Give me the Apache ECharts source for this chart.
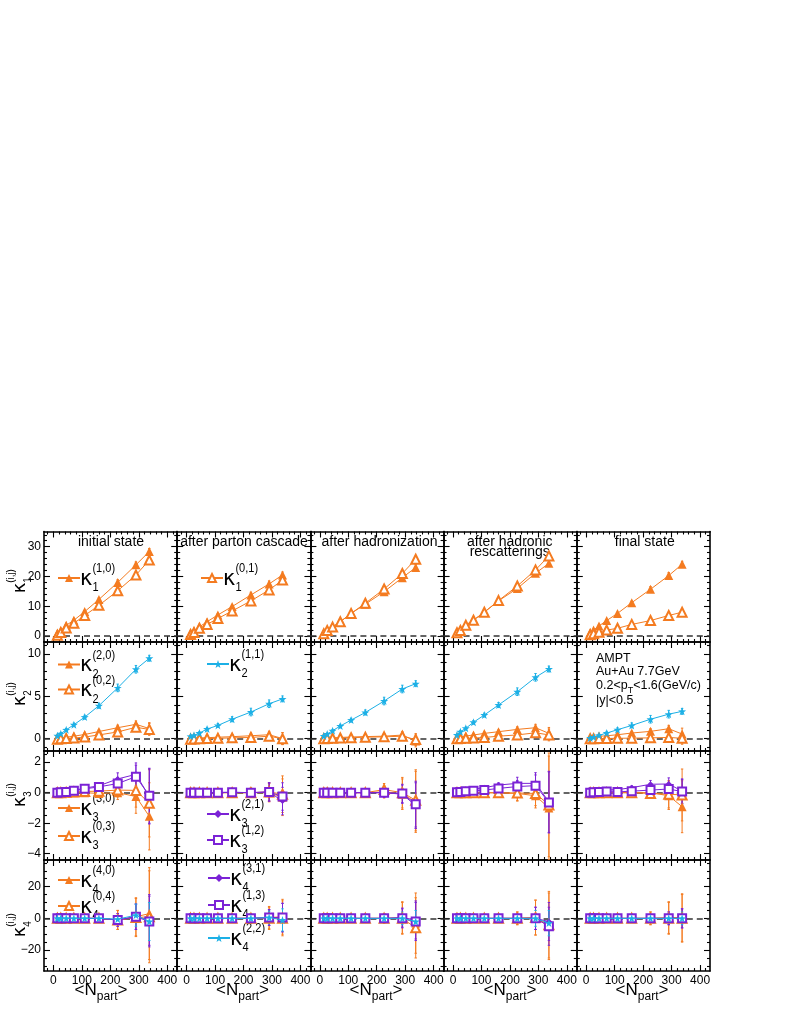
<!DOCTYPE html>
<html><head><meta charset="utf-8">
<script src="https://cdn.jsdelivr.net/npm/echarts@6/dist/echarts.min.js"></script>
<style>html,body{margin:0;padding:0;background:#fff}#c{width:790px;height:1022px}</style>
</head><body><div id="c"></div><script>
// ---------------- data ----------------
const npart = [14, 26, 45, 72, 110, 160, 226, 290, 337];
const stages = ['initial state', 'after parton cascade', 'after hadronization', 'after hadronic\nrescatterings', 'final state'];
const xTicks = [0, 100, 200, 300, 400];
const yTicks = [[0, 10, 20, 30], [0, 5, 10], [-4, -2, 0, 2], [-20, 0, 20]];

// kappa_1 (one array per stage)
const k1_10 = [
  [0.9, 1.7, 3.6, 5.3, 8.2, 12.3, 18.0, 23.9, 28.4],
  [0.9, 1.7, 3.1, 4.8, 7.1, 9.9, 13.8, 17.5, 20.5],
  [0.9, 2.0, 3.1, 4.8, 7.6, 10.7, 14.9, 19.6, 23.0],
  [1.2, 2.0, 3.7, 5.4, 8.0, 11.8, 16.0, 21.1, 24.4],
  [1.2, 2.0, 3.4, 5.2, 7.6, 11.2, 15.7, 20.3, 24.1]];
const k1_01 = [
  [0.3, 1.2, 2.7, 4.3, 6.9, 10.3, 15.2, 20.5, 25.5],
  [0.5, 1.2, 2.6, 3.9, 5.9, 8.4, 11.8, 15.5, 18.8],
  [0.8, 1.9, 3.0, 4.8, 7.6, 11.0, 15.8, 21.0, 25.8],
  [1.1, 1.9, 3.6, 5.3, 8.0, 11.9, 16.8, 22.2, 26.9],
  [0.4, 0.8, 1.3, 2.0, 2.6, 3.9, 5.2, 6.9, 8.0]];
const k1_err = [0.15, 0.2, 0.3, 0.35, 0.4, 0.5, 0.9, 1.0, 1.0];

// kappa_2
const k2_20 = [
  [0.05, 0.1, 0.17, 0.3, 0.5, 0.85, 1.3, 1.7, 1.2],
  [0.05, 0.07, 0.1, 0.12, 0.18, 0.24, 0.35, 0.47, 0.02],
  [0.05, 0.08, 0.1, 0.15, 0.2, 0.25, 0.3, 0.43, -0.27],
  [0.13, 0.2, 0.32, 0.44, 0.63, 0.83, 1.1, 1.3, 0.63],
  [0.08, 0.15, 0.28, 0.35, 0.47, 0.67, 0.87, 1.18, 0.55]];
const k2_02 = [
  [-0.05, 0.0, 0.03, 0.08, 0.2, 0.45, 0.8, 1.35, 1.1],
  [-0.05, -0.03, 0.0, 0.02, 0.05, 0.1, 0.15, 0.3, 0.0],
  [0.0, 0.03, 0.05, 0.08, 0.12, 0.18, 0.22, 0.3, -0.1],
  [0.0, 0.02, 0.05, 0.08, 0.15, 0.3, 0.45, 0.7, 0.45],
  [0.0, 0.0, 0.02, 0.03, 0.05, 0.07, 0.1, 0.15, 0.05]];
const k2_11 = [
  [0.35, 0.6, 1.05, 1.65, 2.55, 3.9, 6.0, 8.2, 9.5],
  [0.28, 0.4, 0.67, 1.14, 1.57, 2.3, 3.15, 4.13, 4.7],
  [0.32, 0.55, 0.95, 1.5, 2.2, 3.1, 4.45, 5.87, 6.5],
  [0.44, 0.83, 1.23, 1.94, 2.8, 3.98, 5.55, 7.25, 8.23],
  [0.08, 0.2, 0.4, 0.67, 1.06, 1.57, 2.3, 2.9, 3.23]];
const k2_org_err = [0.05, 0.06, 0.08, 0.1, 0.15, 0.2, 0.3, 0.4, 0.7];
const k2_blu_err = [0.1, 0.12, 0.15, 0.2, 0.22, 0.3, 0.45, 0.45, 0.35];

// kappa_3
const k3_30 = [
  [0, 0, 0, 0, 0, -0.05, 0.0, -0.25, -1.55],
  [0, 0, 0, 0, 0, 0, 0, 0.0, -0.3],
  [0, 0, 0, 0, 0, 0, 0.05, -0.1, -0.6],
  [0, 0, 0, 0, 0, -0.02, -0.05, -0.2, -1.0],
  [0, 0, 0, 0, 0, 0, 0, -0.2, -0.92]];
const k3_03 = [
  [0, 0, 0.02, 0.05, 0.08, 0.1, 0.17, 0.15, -0.7],
  [0, 0, 0, 0, 0, 0, 0, 0.05, -0.1],
  [0, 0, 0, 0, 0, 0, 0.2, 0.0, -0.5],
  [0, 0, 0, 0, 0, 0, -0.02, -0.05, -0.8],
  [0, 0, 0, 0, 0, 0, -0.05, -0.1, -0.15]];
const k3_21 = [
  [0.02, 0.05, 0.08, 0.15, 0.3, 0.45, 0.9, 1.2, -0.25],
  [0, 0, 0, 0, 0.02, 0.03, 0.0, 0.05, -0.55],
  [0, 0, 0, 0, 0, 0, 0.0, -0.1, -0.85],
  [0.1, 0.12, 0.17, 0.24, 0.33, 0.5, 0.61, 0.61, -0.6],
  [0.05, 0.08, 0.12, 0.17, 0.2, 0.33, 0.55, 0.57, 0.1]];
const k3_12 = [
  [0.0, 0.03, 0.05, 0.12, 0.25, 0.38, 0.6, 1.05, -0.2],
  [0, 0, 0, 0, 0, 0.02, 0.0, 0.05, -0.25],
  [0, 0, 0, 0, 0, 0, 0.0, -0.05, -0.75],
  [0.02, 0.05, 0.1, 0.13, 0.17, 0.28, 0.4, 0.46, -0.64],
  [0.0, 0.02, 0.04, 0.07, 0.05, 0.1, 0.17, 0.24, 0.07]];
const k3_org_err = [
  [0.03, 0.04, 0.06, 0.08, 0.12, 0.25, 0.45, 1.1, 2.2],
  [0.03, 0.04, 0.05, 0.07, 0.1, 0.15, 0.3, 0.6, 1.2],
  [0.03, 0.04, 0.05, 0.07, 0.1, 0.15, 0.4, 1.0, 2.0],
  [0.03, 0.04, 0.06, 0.08, 0.12, 0.2, 0.5, 0.8, 3.4],
  [0.03, 0.04, 0.05, 0.07, 0.1, 0.15, 0.3, 0.9, 1.7]];
const k3_pur_err = [
  [0.03, 0.04, 0.05, 0.07, 0.1, 0.2, 0.4, 0.75, 1.8],
  [0.03, 0.03, 0.04, 0.06, 0.08, 0.12, 0.25, 0.6, 0.9],
  [0.03, 0.03, 0.04, 0.06, 0.08, 0.12, 0.3, 0.6, 1.5],
  [0.03, 0.04, 0.05, 0.07, 0.1, 0.15, 0.4, 0.7, 2.0],
  [0.03, 0.03, 0.04, 0.06, 0.08, 0.12, 0.25, 0.4, 0.8]];

// kappa_4
const k4_40 = [
  [0, 0, 0, 0, 0, 0, -1, 1, 3],
  [0, 0, 0, 0, 0, 0, 0, 0.5, 1],
  [0, 0, 0, 0, 0, 0, 0, 0.5, -3],
  [0, 0, 0, 0, 0, 0, 0, 0.5, -5],
  [0, 0, 0, 0, 0, 0, 0, 0.5, 0.5]];
const k4_04 = [
  [0, 0, 0, 0, 0, 0, -1, 0.5, 1],
  [0, 0, 0, 0, 0, 0, 0, 0, 0],
  [0, 0, 0, 0, 0, 0, 0, 0, -6],
  [0, 0, 0, 0, 0, 0, 0, 0.5, -4],
  [0, 0, 0, 0, 0, 0, 0, 0, 0]];
const k4_31 = [
  [0, 0, 0, 0, 0, 0, -1, 1, -1],
  [0, 0, 0, 0, 0, 0, 0, 0.5, 0.5],
  [0, 0, 0, 0, 0, 0, 0, 0.5, -1],
  [0, 0, 0, 0, 0, 0, 0, 0, -2],
  [0, 0, 0, 0, 0, 0, 0, 0, 0]];
const k4_13 = [
  [0, 0, 0, 0, 0, 0, -1, 1, -2],
  [0, 0, 0, 0, 0, 0, 0, 0.5, 0.5],
  [0, 0, 0, 0, 0, 0, 0, 0, -2],
  [0, 0, 0, 0, 0, 0, 0, 0, -5],
  [0, 0, 0, 0, 0, 0, 0, 0, 0]];
const k4_22 = [
  [0, 0, 0, 0, 0, 0, -0.5, 2, -2],
  [0, 0, 0, 0, 0, 0, 0, 0.5, -1],
  [0, 0, 0, 0, 0, 0, 0, 0, -2],
  [0, 0, 0, 0, 0, 0, 0, 0, -3],
  [0, 0, 0, 0, 0, 0, 0, 0, 0]];
const k4_org_err = [
  [0.1, 0.2, 0.3, 0.5, 1, 2, 6, 12, 29],
  [0.1, 0.2, 0.3, 0.4, 0.8, 1.5, 3, 7, 11],
  [0.1, 0.2, 0.3, 0.4, 0.8, 1.5, 3, 10, 19],
  [0.1, 0.2, 0.3, 0.4, 0.8, 1.5, 4, 11, 21],
  [0.1, 0.2, 0.3, 0.4, 0.8, 1.5, 4, 10, 15]];
const k4_pur_err = [
  [0.1, 0.1, 0.2, 0.3, 0.6, 1.2, 4, 8, 16],
  [0.1, 0.1, 0.2, 0.3, 0.6, 1, 2, 5, 9],
  [0.1, 0.1, 0.2, 0.3, 0.6, 1, 2, 6, 12],
  [0.1, 0.1, 0.2, 0.3, 0.6, 1, 2.5, 7, 12],
  [0.1, 0.1, 0.2, 0.3, 0.5, 0.8, 2, 4, 6]];
const k4_blu_err = [
  [0.05, 0.1, 0.15, 0.2, 0.4, 0.8, 2, 7, 12],
  [0.05, 0.1, 0.1, 0.2, 0.3, 0.6, 1.5, 4, 7],
  [0.05, 0.1, 0.1, 0.2, 0.3, 0.6, 1.5, 4, 7],
  [0.05, 0.1, 0.1, 0.2, 0.3, 0.6, 1.5, 5, 8],
  [0.05, 0.1, 0.1, 0.2, 0.3, 0.5, 1.2, 3, 4]];

// ---------------- layout / style ----------------
const ORG = '#f47b20', BLU = '#1cb0e6', PUR = '#7b22d6';
const STAR = 'path://M0,-10L2.35,-3.24L9.51,-3.09L3.8,1.24L5.88,8.09L0,4L-5.88,8.09L-3.8,1.24L-9.51,-3.09L-2.35,-3.24Z';
const COLX = [44, 177.2, 310.4, 443.6, 576.8];
const PW = 133.2;
const ROWY = [531.5, 642, 751, 860, 971];
const XR = [-33, 435];
const YR = [[-2.0, 35.1], [-1.45, 11.42], [-4.41, 2.73], [-33.2, 36.8]];
const YMINOR = [2, 1, 0.5, 5];
const XMINOR = 20;
const SANS = '"Liberation Sans", Arial, sans-serif';
const GREEK = '"DejaVu Sans", sans-serif';

function minorVals(lo, hi, step, majors) {
  const out = [];
  for (let v = Math.ceil(lo / step) * step; v <= hi + 1e-9; v += step) {
    const r = Math.round(v * 1000) / 1000;
    if (!majors.some(m => Math.abs(m - r) < 1e-6)) out.push(r);
  }
  return out;
}
const fmt = v => (v < 0 ? '\u2212' + (-v) : String(v));

const rowDefs = [
  [{ name: 'κ1(1,0)', vals: k1_10, errs: k1_err, sym: 'triangle', size: 9, color: ORG },
   { name: 'κ1(0,1)', vals: k1_01, errs: k1_err, sym: 'emptyTriangle', size: 9, color: ORG }],
  [{ name: 'κ2(2,0)', vals: k2_20, errs: k2_org_err, sym: 'triangle', size: 9, color: ORG },
   { name: 'κ2(0,2)', vals: k2_02, errs: k2_org_err, sym: 'emptyTriangle', size: 9, color: ORG },
   { name: 'κ2(1,1)', vals: k2_11, errs: k2_blu_err, sym: STAR, size: 8, color: BLU }],
  [{ name: 'κ3(3,0)', vals: k3_30, errs: k3_org_err, sym: 'triangle', size: 9, color: ORG },
   { name: 'κ3(0,3)', vals: k3_03, errs: k3_org_err, sym: 'emptyTriangle', size: 9, color: ORG },
   { name: 'κ3(2,1)', vals: k3_21, errs: k3_pur_err, sym: 'diamond', size: 6, color: PUR },
   { name: 'κ3(1,2)', vals: k3_12, errs: k3_pur_err, sym: 'emptyRect', size: 8, color: PUR }],
  [{ name: 'κ4(4,0)', vals: k4_40, errs: k4_org_err, sym: 'triangle', size: 9, color: ORG },
   { name: 'κ4(0,4)', vals: k4_04, errs: k4_org_err, sym: 'emptyTriangle', size: 9, color: ORG },
   { name: 'κ4(3,1)', vals: k4_31, errs: k4_pur_err, sym: 'diamond', size: 6, color: PUR },
   { name: 'κ4(1,3)', vals: k4_13, errs: k4_pur_err, sym: 'emptyRect', size: 8, color: PUR },
   { name: 'κ4(2,2)', vals: k4_22, errs: k4_blu_err, sym: STAR, size: 8, color: BLU }]
];

const grids = [], xAxes = [], yAxes = [], series = [];
const axLine = { show: true, onZero: false, lineStyle: { color: '#000', width: 1.6 } };
const noLine = { show: false, onZero: false };

for (let r = 0; r < 4; r++) {
  const yMaj = yTicks[r];
  const yMin = minorVals(YR[r][0], YR[r][1], YMINOR[r], yMaj);
  const xMin = minorVals(XR[0], XR[1], XMINOR, xTicks);
  for (let c = 0; c < 5; c++) {
    const g = r * 5 + c;
    grids.push({ left: COLX[c], top: ROWY[r], width: PW, height: ROWY[r + 1] - ROWY[r], containLabel: false, outerBoundsMode: 'none', show: false });
    const baseX = { gridIndex: g, type: 'value', min: XR[0], max: XR[1], splitLine: { show: false }, axisPointer: { show: false } };
    const baseY = { gridIndex: g, type: 'value', min: YR[r][0], max: YR[r][1], splitLine: { show: false }, axisPointer: { show: false } };
    const tk = (vals, len) => ({ show: true, inside: true, length: len, customValues: vals, lineStyle: { color: '#000', width: 1.1 } });
    xAxes.push(
      Object.assign({}, baseX, { position: 'bottom', axisLine: axLine, axisTick: tk(xTicks, 6),
        axisLabel: { show: r === 3, customValues: xTicks, margin: 4, fontSize: 12, color: '#000', fontFamily: SANS, formatter: fmt, hideOverlap: false } }),
      Object.assign({}, baseX, { position: 'bottom', axisLine: noLine, axisTick: tk(xMin, 3), axisLabel: { show: false } }),
      Object.assign({}, baseX, { position: 'top', axisLine: axLine, axisTick: tk(xTicks, 6), axisLabel: { show: false } }),
      Object.assign({}, baseX, { position: 'top', axisLine: noLine, axisTick: tk(xMin, 3), axisLabel: { show: false } })
    );
    yAxes.push(
      Object.assign({}, baseY, { position: 'left', axisLine: axLine, axisTick: tk(yMaj, 6),
        axisLabel: { show: c === 0, customValues: yMaj, margin: 3, fontSize: 12, color: '#000', fontFamily: SANS, formatter: fmt, hideOverlap: false } }),
      Object.assign({}, baseY, { position: 'left', axisLine: noLine, axisTick: tk(yMin, 3), axisLabel: { show: false } }),
      Object.assign({}, baseY, { position: 'right', axisLine: axLine, axisTick: tk(yMaj, 6), axisLabel: { show: false } }),
      Object.assign({}, baseY, { position: 'right', axisLine: noLine, axisTick: tk(yMin, 3), axisLabel: { show: false } })
    );
    rowDefs[r].forEach((d, k) => {
      const vals = d.vals[c];
      const errs = Array.isArray(d.errs[0]) ? d.errs[c] : d.errs;
      const col = d.color;
      series.push({
        type: 'custom', name: d.name + ' err', xAxisIndex: g * 4, yAxisIndex: g * 4, silent: true, z: 2, clip: true,
        data: npart.map((n, i) => [n, vals[i], errs[i]]), encode: { x: 0, y: 1 },
        renderItem: (params, api) => {
          const x = api.value(0), y = api.value(1), e = api.value(2);
          const p1 = api.coord([x, y - e]), p2 = api.coord([x, y + e]);
          const st = { stroke: col, lineWidth: 1 };
          return { type: 'group', children: [
            { type: 'line', shape: { x1: p1[0], y1: p1[1], x2: p2[0], y2: p2[1] }, style: st },
            { type: 'line', shape: { x1: p1[0] - 1.2, y1: p1[1], x2: p1[0] + 1.2, y2: p1[1] }, style: st },
            { type: 'line', shape: { x1: p2[0] - 1.2, y1: p2[1], x2: p2[0] + 1.2, y2: p2[1] }, style: st }
          ] };
        }
      });
      const s = {
        type: 'line', name: d.name, xAxisIndex: g * 4, yAxisIndex: g * 4, z: 3 + k,
        data: npart.map((n, i) => [n, vals[i]]),
        symbol: d.sym, symbolSize: d.size, showAllSymbol: true,
        itemStyle: { color: col, borderColor: col, borderWidth: d.sym.indexOf('empty') === 0 ? 1.3 : 0 },
        lineStyle: { color: col, width: 1 }, emphasis: { disabled: true }, silent: true
      };
      if (k === 0) {
        s.markLine = { silent: true, symbol: ['none', 'none'], label: { show: false }, animation: false,
          lineStyle: { color: '#333', type: [6, 4], width: 1.5 }, data: [{ yAxis: 0 }], z: 2 };
      }
      series.push(s);
    });
  }
}

// ---------------- text helpers ----------------
const mctx = document.createElement('canvas').getContext('2d');
function tw(text, size, fam) { mctx.font = size + 'px ' + fam; return mctx.measureText(text).width; }
function txt(x, y, text, size, opts) {
  opts = opts || {};
  const fam = opts.fam || SANS;
  const el = { type: 'text', x, y, silent: true, style: { text, fontSize: size, fontFamily: fam, fill: '#000',
    align: opts.align || 'left', textAlign: opts.align || 'left', verticalAlign: 'middle', textVerticalAlign: 'middle' } };
  if (opts.sx) el.scaleX = opts.sx;
  return el;
}
// kappa with stacked sub/superscript; (x,y) = left / vertical centre of kappa glyph
function kappa(x, y, sub, sup, fs, ss, rot, off) {
  const kw = tw('κ', fs, GREEK);
  off = off || [0.4, -0.52];
  const children = [
    txt(0, 0, 'κ', fs, { fam: GREEK }),
    txt(kw, fs * off[0], sub, ss, { sx: 0.85 }),
    txt(kw, fs * off[1], sup, ss, { sx: 0.85 })
  ];
  return { type: 'group', x, y, rotation: rot || 0, silent: true, children };
}

const graphics = [];
// column titles
const titleX = [111, 244, 379.5, 509.7, 644.7];
stages.forEach((t, c) => {
  const lines = t.split('\n');
  lines.forEach((ln, i) => graphics.push(txt(titleX[c], 541.7 + i * 10, ln, 14, { align: 'center' })));
});
// x titles <N_part>
const xtX = [101, 242.5, 376, 510, 642];
xtX.forEach(cx => {
  const a = tw('<N', 17, SANS), b = tw('part', 12, SANS), e = tw('>', 17, SANS);
  const x0 = cx - (a + b + e) / 2;
  graphics.push(txt(x0, 990, '<N', 17), txt(x0 + a, 997, 'part', 12), txt(x0 + a + b, 990, '>', 17));
});
// y titles (rotated)
const ytY = [588, 701, 802, 932];
ytY.forEach((yc, r) => {
  const kw = tw('κ', 18, GREEK);
  graphics.push(kappa(20, yc + kw / 2, String(r + 1), '(i,j)', 18, 11.5, Math.PI / 2, [0.42, -0.5]));
});
// legend labels
const legendEntries = [
  { name: 'κ1(1,0)', x: 57, y: 578, sub: '1', sup: '(1,0)' },
  { name: 'κ1(0,1)', x: 200, y: 578, sub: '1', sup: '(0,1)' },
  { name: 'κ2(2,0)', x: 57, y: 664.5, sub: '2', sup: '(2,0)' },
  { name: 'κ2(0,2)', x: 57, y: 689.5, sub: '2', sup: '(0,2)' },
  { name: 'κ2(1,1)', x: 206, y: 664, sub: '2', sup: '(1,1)' },
  { name: 'κ3(3,0)', x: 57, y: 808, sub: '3', sup: '(3,0)' },
  { name: 'κ3(0,3)', x: 57, y: 836, sub: '3', sup: '(0,3)' },
  { name: 'κ3(2,1)', x: 206, y: 814, sub: '3', sup: '(2,1)' },
  { name: 'κ3(1,2)', x: 206, y: 840, sub: '3', sup: '(1,2)' },
  { name: 'κ4(4,0)', x: 57, y: 880, sub: '4', sup: '(4,0)' },
  { name: 'κ4(0,4)', x: 57, y: 906, sub: '4', sup: '(0,4)' },
  { name: 'κ4(3,1)', x: 207, y: 878, sub: '4', sup: '(3,1)' },
  { name: 'κ4(1,3)', x: 207, y: 905, sub: '4', sup: '(1,3)' },
  { name: 'κ4(2,2)', x: 207, y: 938, sub: '4', sup: '(2,2)' }
];
const legends = legendEntries.map(e => ({
  show: true, left: e.x, top: e.y - 5, itemWidth: 22, itemHeight: 10, padding: 0, itemGap: 0,
  selectedMode: false, data: [{ name: e.name }], formatter: () => '', textStyle: { fontSize: 1 }
}));
legendEntries.forEach(e => graphics.push(kappa(e.x + 23, e.y + 1.5, e.sub, e.sup, 21, 13)));

// AMPT annotation
graphics.push(txt(596, 659, 'AMPT', 12.5));
graphics.push(txt(596, 672, 'Au+Au 7.7GeV', 12.5));
(function () {
  const a = tw('0.2<p', 12.5, SANS), b = tw('T', 9, SANS);
  graphics.push(txt(596, 686, '0.2<p', 12.5), txt(596 + a, 691, 'T', 9), txt(596 + a + b, 686, '<1.6(GeV/c)', 12.5));
})();
graphics.push(txt(596, 701, '|y|<0.5', 12.5));

const chart = echarts.init(document.getElementById('c'), null, { renderer: 'canvas', width: 790, height: 1022 });
chart.setOption({
  animation: false,
  backgroundColor: '#fff',
  textStyle: { fontFamily: SANS },
  grid: grids, xAxis: xAxes, yAxis: yAxes, series, legend: legends, graphic: graphics
});
</script></body></html>
